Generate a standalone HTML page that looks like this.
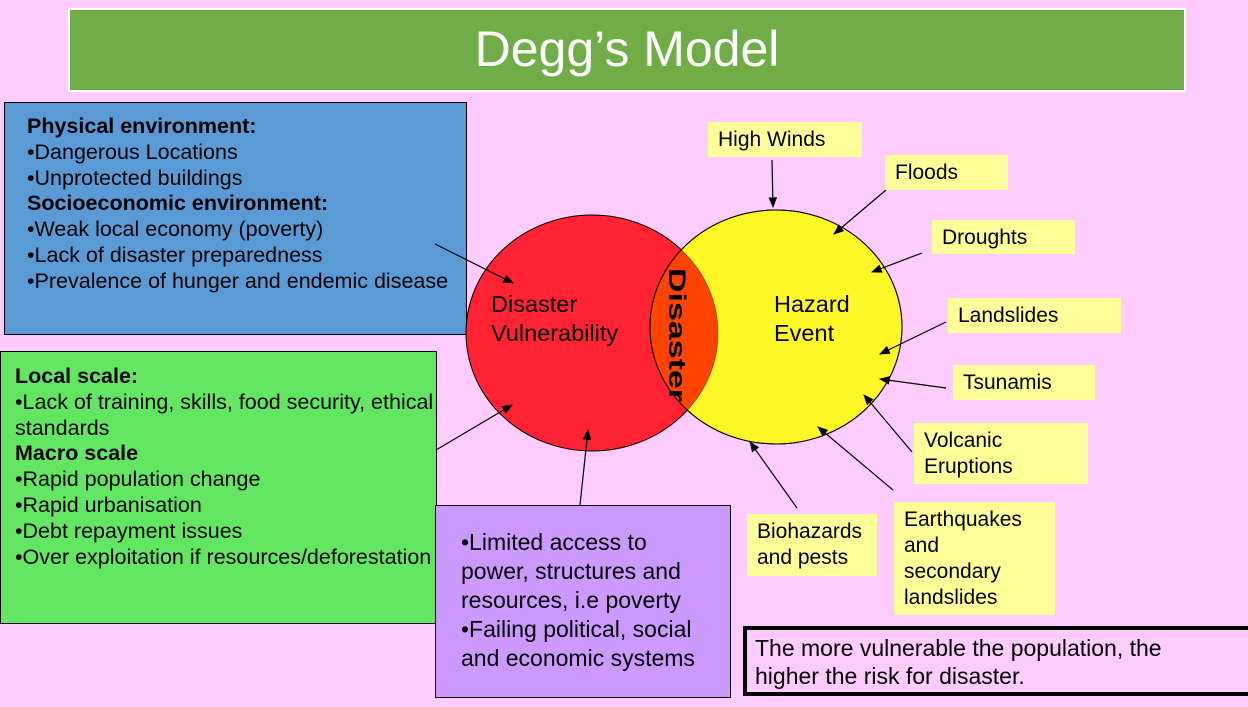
<!DOCTYPE html>
<html><head><meta charset="utf-8"><style>
body{margin:0;width:1248px;height:707px;background:#FFCCFF;position:relative;overflow:hidden;font-family:"Liberation Sans",Arial,sans-serif;color:#000}
.a{position:absolute;box-sizing:border-box}
.t{font-size:21.5px;line-height:25.8px;white-space:nowrap}
.y{background:#FFFF99;font-size:21px;line-height:26px;padding:4px 10px;white-space:nowrap}
</style></head><body>
<div class="a" style="left:68px;top:8px;width:1118px;height:84px;background:#70AD47;border:2px solid #fff;color:#fff;font-size:50px;text-align:center;line-height:78px;font-family:'Liberation Sans Narrow','Liberation Sans',sans-serif">Degg’s Model</div>

<div class="a t" style="left:4px;top:102px;width:463px;height:233px;background:#5B9BD5;border:1px solid #000;padding:11px 0 0 22px"><b>Physical environment:</b><br>•Dangerous Locations<br>•Unprotected buildings<br><b>Socioeconomic environment:</b><br>•Weak local economy (poverty)<br>•Lack of disaster preparedness<br>•Prevalence of hunger and endemic disease</div>

<div class="a t" style="left:0;top:351px;width:437px;height:273px;background:#63E763;border:1px solid #000;padding:12px 0 0 14px"><b>Local scale:</b><br>•Lack of training, skills, food security, ethical<br>standards<br><b>Macro scale</b><br>•Rapid population change<br>•Rapid urbanisation<br>•Debt repayment issues<br>•Over exploitation if resources/deforestation</div>

<div class="a" style="left:435px;top:505px;width:296px;height:193px;background:#CC99FF;border:1px solid #000;padding:22px 0 0 25px;font-size:23px;line-height:29px;white-space:nowrap">•Limited access to<br>power, structures and<br>resources, i.e poverty<br>•Failing political, social<br>and economic systems</div>

<svg class="a" style="left:0;top:0" width="1248" height="707">
<defs><marker id="m" viewBox="0 0 10 10" refX="9" refY="5" markerWidth="9" markerHeight="9" orient="auto"><path d="M0,1 L10,5 L0,9z" fill="#000"/></marker>
<clipPath id="c"><ellipse cx="592" cy="333" rx="126" ry="118"/></clipPath></defs>
<ellipse cx="592" cy="333" rx="126" ry="118" fill="#FF2233" stroke="#000" stroke-width="1"/>
<ellipse cx="776" cy="327" rx="126" ry="117" fill="#FFF726" stroke="#000" stroke-width="1"/>
<ellipse cx="776" cy="327" rx="126" ry="117" fill="#FF4400" clip-path="url(#c)"/>
<ellipse cx="592" cy="333" rx="126" ry="118" fill="none" stroke="#000" stroke-width="0.6" opacity="0.6"/>
<ellipse cx="776" cy="327" rx="126" ry="117" fill="none" stroke="#000" stroke-width="1"/>
<g stroke="#000" stroke-width="1.2" marker-end="url(#m)">
<line x1="435" y1="244" x2="513" y2="283"/>
<line x1="436" y1="450" x2="512" y2="405"/>
<line x1="580" y1="505" x2="588" y2="430"/>
<line x1="772" y1="160" x2="773" y2="207"/>
<line x1="886" y1="190" x2="834" y2="234"/>
<line x1="922" y1="253" x2="872" y2="272"/>
<line x1="946" y1="322" x2="880" y2="354"/>
<line x1="946" y1="388" x2="880" y2="379"/>
<line x1="912" y1="452" x2="864" y2="395"/>
<line x1="893" y1="490" x2="818" y2="427"/>
<line x1="797" y1="508" x2="750" y2="442"/>
</g>
<text x="491" y="312" font-size="23.5" font-family="Liberation Sans">Disaster</text>
<text x="491" y="341" font-size="23.5" font-family="Liberation Sans">Vulnerability</text>
<text x="774" y="312" font-size="23.5" font-family="Liberation Sans">Hazard</text>
<text x="774" y="341" font-size="23.5" font-family="Liberation Sans">Event</text>
<text transform="translate(669,268) rotate(90)" font-size="24" font-weight="bold" font-family="Liberation Sans" textLength="134" lengthAdjust="spacingAndGlyphs">Disaster</text>
</svg>

<div class="a y" style="left:708px;top:122px;width:154px;height:35px;padding-top:5px">High Winds</div>
<div class="a y" style="left:885px;top:155px;width:123px;height:35px;padding-top:5px">Floods</div>
<div class="a y" style="left:932px;top:220px;width:143px;height:34px;padding-top:5px">Droughts</div>
<div class="a y" style="left:948px;top:298px;width:173px;height:35px;padding-top:5px">Landslides</div>
<div class="a y" style="left:953px;top:365px;width:142px;height:35px;padding-top:5px">Tsunamis</div>
<div class="a y" style="left:914px;top:423px;width:174px;height:61px;padding-top:5px">Volcanic<br>Eruptions</div>
<div class="a y" style="left:747px;top:514px;width:130px;height:62px;padding-top:5px">Biohazards<br>and pests</div>
<div class="a y" style="left:894px;top:502px;width:161px;height:113px;padding-top:5px">Earthquakes<br>and<br>secondary<br>landslides</div>

<div class="a" style="left:743px;top:626px;width:520px;height:70px;border:4px solid #000;font-size:23px;line-height:28px;padding:4px 0 0 8px;white-space:nowrap">The more vulnerable the population, the<br>higher the risk for disaster.</div>
</body></html>
